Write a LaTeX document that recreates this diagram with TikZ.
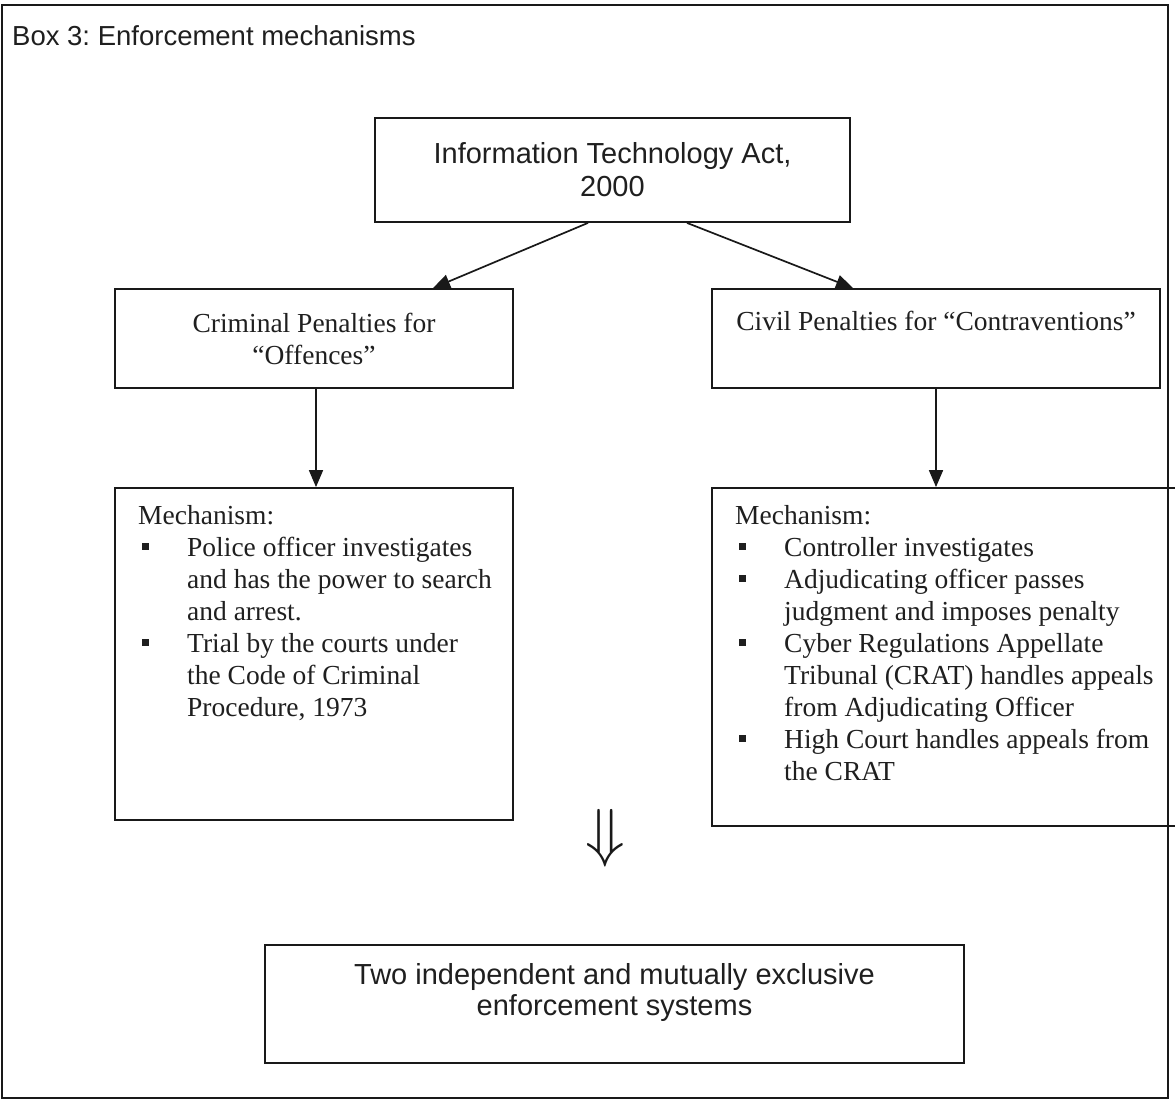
\documentclass[tikz,border=0pt]{standalone}
\usepackage{fontspec}
\setmainfont{Liberation Serif}
\newfontfamily\arialf{Liberation Sans}
\usetikzlibrary{arrows.meta}
\newcommand{\sqbul}{\llap{\rule[6pt]{7pt}{7pt}\hspace{38pt}}}
\frenchspacing
\begin{document}
\begin{tikzpicture}[x=1pt,y=-1pt,
  boxst/.style={draw=black!90, line width=1.8pt, inner sep=0pt},
  arr/.style={draw=black!90, line width=1.7pt, -{Triangle[length=17pt,width=14pt]}},
  sanst/.style={font=\arialf\fontsize{29}{33}\selectfont, align=center, text=black!88},
  serst/.style={font=\fontsize{27.5}{32}\selectfont, align=center, text=black!88},
  mline/.style={font=\fontsize{27.5}{32}\selectfont, anchor=base west, inner sep=0pt, text=black!88}]
\useasboundingbox (0,0) rectangle (1175,1103);
\clip (0,0) rectangle (1175,1103);
% outer frame
\draw[line width=2pt, black!90] (2,5) rectangle (1168,1098);
\node[anchor=base west, inner sep=0pt, font=\arialf\fontsize{27.5}{30}\selectfont, text=black!88] (title) at (12,45) {Box 3: Enforcement mechanisms};
% top box
\node[boxst, sanst, minimum width=475pt, minimum height=104pt] (act) at (612.5,170) {Information Technology Act,\\2000};
% penalty boxes
\node[boxst, serst, minimum width=398pt, minimum height=99pt] (crim) at (314,338.5) {Criminal Penalties for\\“Offences”};
\node[boxst, minimum width=448pt, minimum height=99pt] (civ) at (936,338.5) {};
\node[serst, inner sep=0pt] (civt) at (936,321) {Civil Penalties for “Contraventions”};
% mechanism boxes
\node[boxst, minimum width=398pt, minimum height=332pt] (mechL) at (314,654) {};
\node[boxst, minimum width=483pt, minimum height=338pt] (mechR) at (953.5,657) {};
% arrows
\draw[arr] ([xshift=-24.5pt]act.south) -- ([xshift=119pt]crim.north);
\draw[arr] ([xshift=74.5pt]act.south) -- ([xshift=-83pt]civ.north);
\draw[arr] ([xshift=2pt]crim.south) -- ([xshift=2pt]crim.south |- mechL.north);
\draw[arr] (civ.south) -- (civ.south |- mechR.north);
% left mechanism text
\node[mline] (l0) at (138,524) {Mechanism:};
\node[mline] (l1) at (187,556) {\sqbul Police officer investigates};
\node[mline] (l2) at (187,588) {and has the power to search};
\node[mline] (l3) at (187,620) {and arrest.};
\node[mline] (l4) at (187,652) {\sqbul Trial by the courts under};
\node[mline] (l5) at (187,684) {the Code of Criminal};
\node[mline] (l6) at (187,716) {Procedure, 1973};
% right mechanism text
\node[mline] (r0) at (735,524) {Mechanism:};
\node[mline] (r1) at (784,556) {\sqbul Controller investigates};
\node[mline] (r2) at (784,588) {\sqbul Adjudicating officer passes};
\node[mline] (r3) at (784,620) {judgment and imposes penalty};
\node[mline] (r4) at (784,652) {\sqbul Cyber Regulations Appellate};
\node[mline] (r5) at (784,684) {Tribunal (CRAT) handles appeals};
\node[mline] (r6) at (784,716) {from Adjudicating Officer};
\node[mline] (r7) at (784,748) {\sqbul High Court handles appeals from};
\node[mline] (r8) at (784,780) {the CRAT};
% double arrow
\node[scale=6.5, text=black!90, inner sep=0pt] (dar) at (605,838) {$\Downarrow$};
% bottom box
\node[boxst, minimum width=699pt, minimum height=118pt] (two) at (614.5,1004) {};
\node[sanst, inner sep=0pt, font=\arialf\fontsize{29}{31}\selectfont] (twot) at (614.5,992) {Two independent and mutually exclusive\\enforcement systems};
\end{tikzpicture}
\end{document}
